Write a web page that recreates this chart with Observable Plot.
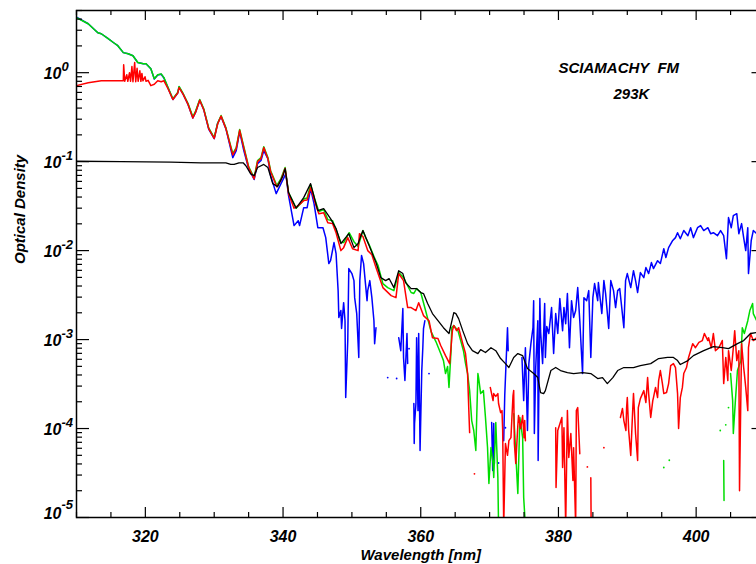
<!DOCTYPE html>
<html>
<head>
<meta charset="utf-8">
<script src="https://cdn.jsdelivr.net/npm/d3@7"></script>
<script src="https://cdn.jsdelivr.net/npm/@observablehq/plot@0.6"></script>
<style>
  html, body { margin: 0; padding: 0; background: #fff; overflow: hidden; }
</style>
</head>
<body>
<div id="chart"></div>
<script>
// SCIAMACHY FM optical density spectra at 293K: [wavelength nm, optical density]; null breaks a line.
const greenSeries = [
  [310.0,4.15],[311.7,3.55],[313.1,2.81],[313.6,2.74],[314.6,2.41],[315.4,2.17],[316.0,2.01],[316.8,1.68],
  [317.5,1.63],[318.2,1.55],[318.9,1.30],[319.7,1.26],[320.1,1.26],[320.8,1.11],[321.3,0.857],[321.8,0.95],
  [322.3,0.97],[322.7,0.88],[323.3,0.68],[324.0,0.51],[324.7,0.60],[324.9,0.70],[325.5,0.58],[326.2,0.45],
  [326.9,0.32],[327.3,0.37],[327.9,0.50],[328.5,0.39],[329.2,0.24],[330.0,0.186],[330.5,0.27],[331.0,0.33],
  [331.7,0.24],[332.7,0.123],[333.2,0.144],[333.7,0.23],[334.3,0.147],[335.0,0.088],[335.8,0.066],[336.3,0.103],
  [336.8,0.111],[337.2,0.147],[337.8,0.111],[338.2,0.079],[339.1,0.054],[339.7,0.0645],[340.3,0.086],[340.8,0.045],
  [341.9,0.030],[342.6,0.034],[343.0,0.038],[343.5,0.039],[344.0,0.055],[344.6,0.038],[345.2,0.0275],[345.9,0.029],
  [346.5,0.0223],[347.2,0.0217],[347.7,0.0172],[348.4,0.0123],[348.8,0.0123],[349.6,0.0159],[350.3,0.0126],[350.9,0.0111],
  [351.6,0.0168],[352.0,0.0140],[352.5,0.0117],[353.2,8.6e-3],[353.8,6.8e-3],[354.5,4.26e-3],[355.2,3.84e-3],[356.1,3.55e-3],
  [356.8,5.66e-3],[357.5,4.97e-3],[358.6,3.38e-3],[359.0,3.3e-3],[359.4,3.74e-3],[360.0,3.38e-3],[360.7,2.12e-3],[361.5,1.23e-3],
  [362.2,9.5e-4],[362.9,6.96e-4],[363.3,5.8e-4],[363.6,4.15e-4],[363.9,4.97e-4],[364.1,2.9e-4],[364.4,7.5e-4],[364.5,1.36e-3],
  [364.8,1.44e-3],[365.4,1.26e-3],[365.8,9.75e-4],[366.2,7.5e-4],[366.5,5.4e-4],[366.8,4.15e-4],[367.1,2.67e-4],[367.4,1.23e-4],
  [367.7,9.5e-5],[368.0,5.66e-5],[368.3,4.15e-4],[368.4,3.74e-4],[368.7,2.47e-4],[369.1,2.67e-4],[369.4,1.33e-4],[369.7,6.12e-5],
  [369.9,2.41e-5],[370.2,6.12e-5],[370.5,4.05e-5],[370.6,2.81e-5],[370.9,1.17e-4],[371.2,2.81e-5],[371.3,8e-6],[372.0,null],
  [373.5,1.47e-4],[374.1,1.86e-5],[374.4,1.33e-4],[374.8,7.9e-5],[374.95,1.68e-5],[375.2,8e-6],[376.0,null],
  [404.0,4.37e-5],[404.05,1.55e-5],[404.5,null],
  [405.0,4.15e-4],[405.3,2.06e-4],[405.4,8.8e-5],[405.7,2.06e-4],[406.0,4.49e-4],[406.5,5.8e-4],[406.7,1.36e-3],[407.0,1.17e-3],
  [407.5,1.63e-3],[407.8,2.12e-3],[408.2,2.54e-3],[408.3,1.96e-3],[408.8,1.63e-3],[410.0,1.26e-3]
];

const redSeries = [
  [310.0,0.715],[311.7,0.77],[313.6,0.81],[315.4,0.81],[316.5,0.81],[316.8,0.81],[316.85,1.23],[317.0,0.80],
  [317.3,0.95],[317.45,0.80],[317.7,1.0],[317.85,0.80],[318.05,1.17],[318.2,0.79],[318.45,1.30],[318.6,0.79],
  [318.8,1.12],[318.95,0.80],[319.2,1.05],[319.35,0.80],[319.5,0.98],[319.65,0.81],[319.95,0.90],[320.1,0.80],
  [320.4,0.82],[320.8,0.715],[321.3,0.74],[321.8,0.81],[322.3,0.79],[322.7,0.81],[323.3,0.66],
  [324.0,0.50],[324.7,0.59],[324.9,0.68],[325.5,0.57],[326.2,0.44],[326.9,0.31],[327.3,0.36],[327.9,0.49],
  [328.5,0.38],[329.2,0.235],[330.0,0.182],[330.5,0.265],[331.0,0.325],[331.7,0.235],[332.7,0.119],[333.2,0.14],
  [333.7,0.225],[334.3,0.143],[335.0,0.086],[335.8,0.064],[336.3,0.10],[336.8,0.108],[337.2,0.144],[337.8,0.108],
  [338.2,0.077],[339.1,0.052],[339.7,0.062],[340.3,0.084],[340.8,0.0437],[341.6,0.030],[342.2,0.032],[343.0,0.0365],
  [343.5,0.037],[344.0,0.051],[344.8,0.032],[345.2,0.026],[345.9,0.0267],[346.5,0.0206],[347.2,0.0201],[347.7,0.0159],
  [348.4,0.0100],[348.8,0.0108],[349.4,0.014],[350.1,0.0105],[350.9,0.0100],[351.1,0.0155],[351.6,0.0144],[352.3,0.0100],
  [352.9,9.0e-3],[353.5,6.45e-3],[354.5,3.84e-3],[355.7,3.12e-3],[356.4,2.96e-3],[356.8,5.52e-3],[357.5,4.6e-3],[358.1,2.29e-3],
  [358.6,2.29e-3],[359.3,2.12e-3],[359.7,2.6e-3],[360.4,1.86e-3],[361.2,1.63e-3],[361.7,1.05e-3],[362.5,1.03e-3],[362.9,8.57e-4],
  [363.6,6.6e-4],[364.2,5.37e-4],[364.6,1.26e-3],[364.8,1.44e-3],[365.2,1.26e-3],[365.5,1.36e-3],[366.1,9.0e-4],[366.5,6.96e-4],
  [366.8,4.15e-4],[367.0,1.47e-4],[367.1,9.0e-5],[367.5,null],
  [370.1,2.9e-4],[370.5,2.06e-4],[370.6,2.47e-4],[370.9,2.3e-4],[371.2,2.47e-4],[371.3,1.91e-4],[371.6,1.51e-4],[371.8,1.59e-4],
  [371.9,9.5e-5],[372.05,8e-6],[372.3,6.8e-5],[372.6,5e-5],[372.8,7.3e-5],[373.1,7.9e-5],[373.4,2.35e-4],[373.5,2.67e-4],
  [373.6,6.8e-5],[373.8,4.05e-5],[374.1,1.08e-4],[374.2,1.4e-4],[374.5,1.0e-4],[374.8,1.4e-4],[375.0,7.9e-5],[375.1,1.23e-4],
  [375.2,7.3e-5],[375.5,null],
  [379.6,1.02e-4],[379.65,2.17e-5],[379.9,9.5e-5],[380.5,1.33e-4],[380.6,3.65e-5],[380.8,1.02e-4],[381.05,8e-6],[381.3,1.59e-4],
  [381.5,4.72e-5],[381.8,8.8e-5],[382.1,2.6e-5],[382.2,6.1e-5],[382.5,8e-6],[382.6,1.59e-4],[382.8,1.72e-4],[383.1,5.2e-5],
  [383.3,null],[384.7,2.8e-5],[384.75,8e-6],[385.0,null],
  [389.0,1.33e-4],[389.3,1.68e-4],[389.5,1.23e-4],[389.8,9.5e-5],[389.9,1.72e-4],[390.0,2.23e-4],[390.2,9.5e-5],[390.5,4.97e-5],
  [390.8,1.72e-4],[390.9,2.47e-4],[391.2,8.8e-5],[391.5,4.37e-5],[391.6,1.72e-4],[391.9,2.17e-4],[392.4,2.67e-4],[392.7,1.96e-4],
  [392.95,3.74e-4],[393.1,2.47e-4],[393.4,1.33e-4],[393.7,2.06e-4],[393.8,2.23e-4],[394.1,2.9e-4],[394.4,2.23e-4],[394.55,3.46e-4],
  [394.8,4.49e-4],[395.1,3.2e-4],[395.3,2.47e-4],[395.7,2.54e-4],[396.0,3.2e-4],[396.3,5.1e-4],[396.7,5.37e-4],[397.0,4.85e-4],
  [397.3,2.47e-4],[397.45,1.0e-4],[397.7,2.23e-4],[398.0,2.9e-4],[398.2,4.15e-4],[398.6,4.85e-4],[398.9,6.3e-4],[399.5,9.0e-4],
  [399.9,8.1e-4],[400.4,9.3e-4],[400.9,9.75e-4],[401.2,1.17e-3],[401.7,9.75e-4],[401.8,1.05e-3],[402.2,8.1e-4],[402.5,1.17e-3],
  [402.8,7.5e-4],[403.3,8.1e-4],[403.8,9.75e-4],[404.0,3.2e-4],[404.3,6.3e-4],[404.6,3.46e-4],[404.7,7.5e-4],[405.1,4.49e-4],
  [405.4,8.1e-4],[405.6,1.26e-3],[405.9,5.8e-4],[406.2,7.5e-4],[406.3,2.0e-5],[406.6,9.0e-4],[406.9,4.85e-4],[407.0,4.15e-4],
  [407.2,2.9e-4],[407.5,1.59e-4],[407.6,8.1e-4],[407.9,1.17e-3],[408.3,9.75e-4],[408.8,1.05e-3],[410.0,1.1e-3]
];

const blueSeries = [
  [310.0,4.2],[311.7,3.55],[313.1,2.81],[313.6,2.74],[314.6,2.41],[315.4,2.17],[316.0,2.01],[316.8,1.68],
  [317.5,1.63],[318.2,1.55],[318.9,1.30],[319.7,1.26],[320.1,1.26],[320.8,1.11],[321.3,0.85],[321.8,0.94],
  [322.3,0.96],[322.7,0.87],[323.3,0.67],[324.0,0.50],[324.7,0.59],[324.9,0.69],[325.5,0.57],[326.2,0.44],
  [326.9,0.31],[327.3,0.36],[327.9,0.49],[328.5,0.38],[329.2,0.232],[330.0,0.181],[330.5,0.27],[331.0,0.32],
  [331.7,0.235],[332.7,0.111],[333.2,0.133],[333.7,0.217],[334.3,0.133],[335.0,0.0835],[335.8,0.063],[336.3,0.095],
  [336.8,0.103],[337.2,0.133],[337.8,0.108],[338.2,0.0696],[339.0,0.0437],[339.7,0.0566],[340.4,0.073],[340.8,0.0415],
  [341.6,0.0191],[342.2,0.0217],[342.4,0.0191],[343.0,0.0304],[343.5,0.0304],[344.0,0.0497],[344.5,0.0338],[345.05,0.0181],
  [345.8,0.0181],[346.2,0.014],[346.65,7.15e-3],[346.9,7.7e-3],[347.4,0.0123],[347.7,9.26e-3],[348.0,3.55e-3],[348.1,1.77e-3],
  [348.4,2.12e-3],[348.5,1.33e-3],[348.8,2.6e-3],[349.0,1.63e-3],[349.1,2.23e-4],[349.4,9.75e-4],[349.55,6.28e-3],[350.0,5.52e-3],
  [350.3,4.6e-3],[350.4,2.96e-3],[350.7,1.96e-3],[351.0,6.3e-4],[351.15,4.6e-3],[351.4,8.8e-3],[351.7,7.15e-3],[352.2,2.74e-3],
  [352.3,3.55e-3],[352.6,4.6e-3],[352.9,2.96e-3],[353.2,1.63e-3],[353.3,9.0e-4],[353.5,1.36e-3],[353.7,null],
  [356.8,1.05e-3],[357.1,7.5e-4],[357.4,2.23e-3],[357.5,6.3e-4],[357.7,3.46e-4],[358.0,1.17e-3],[358.1,5.37e-4],[358.3,null],
  [359.0,1.91e-4],[359.05,6.8e-5],[359.1,1.14e-4],[359.3,1.91e-4],[359.4,1.05e-3],[359.6,1.59e-4],[359.7,1.17e-3],[359.9,5.66e-5],
  [360.15,4.49e-4],[360.3,8.1e-4],[360.4,1.33e-3],[360.6,1.63e-3],[360.8,null],
  [370.3,1.17e-4],[370.45,3.38e-5],[370.6,1.14e-4],[370.7,4.05e-5],[370.9,null],
  [372.05,7.3e-5],[372.2,2.35e-4],[372.6,1.36e-3],[372.7,7.5e-4],[372.9,null],
  [374.7,6.3e-4],[374.95,2.06e-4],[375.2,8.1e-4],[375.5,9.5e-5],[375.7,5.37e-4],[376.0,9.0e-4],[376.3,1.36e-3],[376.4,2.74e-3],
  [376.5,8.8e-5],[376.7,4.85e-4],[377.0,1.63e-3],[377.05,4.37e-5],[377.3,2.89e-3],[377.4,1.26e-3],[377.7,5.37e-4],[378.0,2.54e-3],
  [378.1,6.3e-4],[378.3,1.4e-3],[378.6,1.17e-3],[379.0,2.29e-3],[379.3,6.96e-4],[379.6,1.96e-3],[379.9,1.17e-3],[380.2,2.89e-3],
  [380.6,1.26e-3],[380.8,2.29e-3],[381.05,1.51e-3],[381.3,3.29e-3],[381.6,8.1e-4],[381.9,2.74e-3],[382.2,1.77e-3],[382.5,2.12e-3],
  [382.8,3.84e-3],[383.1,1.63e-3],[383.5,4.15e-4],[383.7,2.96e-3],[384.1,2.74e-3],[384.4,3.55e-3],[384.7,6.3e-4],[385.0,2.96e-3],
  [385.25,4.26e-3],[385.7,2.74e-3],[385.8,4.37e-3],[386.3,1.96e-3],[386.6,4.6e-3],[386.85,3.29e-3],[387.3,1.33e-3],[387.6,4.6e-3],
  [388.0,3.55e-3],[388.3,2.29e-3],[388.6,3.55e-3],[388.9,3.74e-3],[389.5,1.36e-3],[389.75,4.6e-3],[390.0,5.52e-3],[390.5,3.84e-3],
  [390.9,5.95e-3],[391.2,4.6e-3],[391.5,3.38e-3],[391.9,5.66e-3],[392.4,4.97e-3],[392.7,6.45e-3],[393.1,5.52e-3],[393.5,7.34e-3],
  [393.8,6.28e-3],[394.4,7.7e-3],[394.8,7.15e-3],[395.3,0.0105],[395.6,8.35e-3],[396.0,0.0108],[396.6,0.013],[397.0,0.014],
  [397.3,0.0159],[397.7,0.0136],[398.2,0.0168],[398.8,0.0147],[399.2,0.0181],[399.6,0.014],[400.2,0.0181],[400.65,0.0191],
  [401.1,0.0168],[401.7,0.0181],[402.1,0.0155],[402.5,0.0159],[403.1,0.0147],[403.55,0.0168],[404.0,0.0147],[404.4,8.1e-3],
  [404.7,0.0235],[405.1,0.0181],[405.4,0.0247],[405.9,0.026],[406.2,0.0155],[406.6,0.0201],[406.9,0.014],[407.2,0.01],
  [407.5,0.0181],[407.6,5.52e-3],[408.0,0.013],[408.3,0.0168],[408.8,0.0155],[410.0,0.0177]
];

const blackSeries = [
  [310.0,0.101],[316.5,0.100],[323.7,0.099],[328.1,0.097],[331.7,0.097],[332.4,0.093],[332.9,0.093],[333.6,0.097],
  [334.2,0.097],[334.6,0.090],[335.3,0.073],[335.8,0.0696],[336.3,0.086],[337.2,0.093],[337.8,0.086],[338.5,0.0566],
  [339.2,0.0524],[340.0,0.0696],[340.3,0.0835],[340.8,0.045],[341.9,0.030],[343.0,0.0394],[344.0,0.0566],[345.05,0.0281],
  [345.9,0.0296],[346.9,0.0229],[347.7,0.0177],[348.4,0.012],[349.55,0.0155],[350.3,0.0108],[350.9,0.012],[351.6,0.0168],
  [352.5,0.0114],[353.5,7.34e-3],[354.2,4.97e-3],[354.9,4.6e-3],[355.4,4.85e-3],[356.1,3.84e-3],[356.8,5.95e-3],[357.4,5.52e-3],
  [357.8,4.37e-3],[358.6,3.74e-3],[359.4,3.74e-3],[360.0,3.38e-3],[360.4,3.29e-3],[361.0,2.54e-3],[361.7,1.96e-3],[362.5,1.63e-3],
  [363.3,1.36e-3],[364.1,1.17e-3],[364.8,2.01e-3],[365.1,1.96e-3],[365.5,1.72e-3],[366.1,1.26e-3],[366.8,9.0e-4],[367.5,7.5e-4],
  [368.3,6.96e-4],[368.7,7.7e-4],[369.4,7.15e-4],[370.2,8.1e-4],[370.9,7.5e-4],[371.6,6.12e-4],[372.3,5.37e-4],[372.8,4.85e-4],
  [373.5,6.3e-4],[374.1,6.96e-4],[374.8,6.6e-4],[375.5,4.72e-4],[376.4,4.15e-4],[377.0,3.74e-4],[377.4,2.54e-4],[377.85,2.47e-4],
  [378.1,2.67e-4],[378.9,4.49e-4],[379.6,4.85e-4],[380.3,4.49e-4],[381.3,4.26e-4],[382.2,4.15e-4],[383.5,4.26e-4],[384.7,4.15e-4],
  [385.7,3.65e-4],[386.4,3.74e-4],[387.1,3.2e-4],[387.9,3.74e-4],[388.6,4.49e-4],[389.5,4.85e-4],[390.9,4.85e-4],[391.9,5.1e-4],
  [393.4,5.37e-4],[394.55,6.12e-4],[395.85,6.3e-4],[396.7,6.3e-4],[397.3,5.81e-4],[397.7,5.24e-4],[398.8,5.81e-4],[399.6,6.6e-4],
  [401.1,7.5e-4],[402.5,8.35e-4],[403.8,8.1e-4],[404.7,7.9e-4],[406.0,9.0e-4],[406.9,9.75e-4],[407.9,1.17e-3],[408.8,1.2e-3],
  [410.0,1.26e-3]
];

// isolated single samples
const blueDots = [[355.2,3.74e-4],[356.5,3.65e-4],[358.3,7.9e-4],[361.2,4.15e-4],[371.3,4.1e-5],[372.3,1.02e-4]];
const redDots = [[367.8,3.1e-5],[384.2,3.7e-5],[386.6,6.1e-5]];
const greenDots = [[395.3,3.65e-5],[396.1,4.4e-5],[403.5,9.5e-5],[404.3,1.1e-4],[404.7,1.72e-4]];

// axis ticks
const xMajor = [320, 340, 360, 380, 400];
const xMinor = d3.range(310, 411, 5).filter(v => v % 20 !== 0);
const yMajor = [1e-5, 1e-4, 1e-3, 1e-2, 1e-1, 1];
const yMinor = [];
for (let e = -5; e <= 0; e++) for (let k = 2; k <= 9; k++) if (k * 10 ** e <= 5) yMinor.push(k * 10 ** e);

const W = 756, H = 564;
const mL = 76, mR = -8.5, mT = 10, mB = 47;
const fw = W - mL - mR, fh = H - mT - mB;

const font = {fontWeight: "bold", fontStyle: "italic", fill: "black"};
const lineOpts = (stroke, w = 1.5) => ({x: d => d[0], y: d => d[1], stroke, strokeWidth: w, clip: true});
const dotOpts = (fill) => ({x: d => d[0], y: d => d[1], fill, r: 0.9, clip: true});

const chart = Plot.plot({
  width: W, height: H,
  marginLeft: mL, marginRight: mR, marginTop: mT, marginBottom: mB,
  x: {domain: [310, 410], axis: null},
  y: {type: "log", domain: [1e-5, 5], axis: null},
  style: {fontFamily: "'Liberation Sans', Arial, sans-serif", background: "#fff", maxWidth: "none"},
  marks: [
    Plot.line(blueSeries, lineOpts("#0000ff")),
    Plot.dot(blueDots, dotOpts("#0000ff")),
    Plot.line(greenSeries, lineOpts("#00dd00")),
    Plot.dot(greenDots, dotOpts("#00dd00")),
    Plot.line(redSeries, lineOpts("#ff0000")),
    Plot.dot(redDots, dotOpts("#ff0000")),
    Plot.line(blackSeries, lineOpts("#000000", 1.3)),

    // ticks on all four sides, pointing inward
    Plot.tickY(yMajor, {y: d => d, insetRight: fw - 13, stroke: "black", strokeWidth: 1.2}),
    Plot.tickY(yMinor, {y: d => d, insetRight: fw - 6, stroke: "black", strokeWidth: 1.2}),
    Plot.tickY(yMajor, {y: d => d, insetLeft: fw - 13, stroke: "black", strokeWidth: 1.2}),
    Plot.tickY(yMinor, {y: d => d, insetLeft: fw - 6, stroke: "black", strokeWidth: 1.2}),
    Plot.tickX(xMajor, {x: d => d, insetTop: fh - 10, stroke: "black", strokeWidth: 1.2}),
    Plot.tickX(xMinor, {x: d => d, insetTop: fh - 5, stroke: "black", strokeWidth: 1.2}),
    Plot.tickX(xMajor, {x: d => d, insetBottom: fh - 10, stroke: "black", strokeWidth: 1.2}),
    Plot.tickX(xMinor, {x: d => d, insetBottom: fh - 5, stroke: "black", strokeWidth: 1.2}),
    Plot.frame({stroke: "black", strokeWidth: 1.5}),

    // tick labels
    Plot.text(xMajor, {x: d => d, frameAnchor: "bottom", dy: 24, lineAnchor: "bottom", text: d => String(d), fontSize: 16, ...font}),
    Plot.text(yMajor.slice(1), {y: d => d, frameAnchor: "left", dx: -15, dy: 6.5, textAnchor: "end", lineAnchor: "bottom", text: () => "10", fontSize: 16, ...font}),
    Plot.text(yMajor.slice(1), {y: d => d, frameAnchor: "left", dx: -15, dy: -1.5, textAnchor: "start", lineAnchor: "bottom", text: d => String(Math.round(Math.log10(d))), fontSize: 13, ...font}),
    Plot.text(yMajor.slice(0, 1), {y: d => d, frameAnchor: "left", dx: -15, dy: 1, textAnchor: "end", lineAnchor: "bottom", text: () => "10", fontSize: 16, ...font}),
    Plot.text(yMajor.slice(0, 1), {y: d => d, frameAnchor: "left", dx: -15, dy: -9, textAnchor: "start", lineAnchor: "bottom", text: d => String(Math.round(Math.log10(d))), fontSize: 13, ...font}),

    // axis titles and annotation
    Plot.text(["Wavelength [nm]"], {frameAnchor: "bottom", dy: 42, lineAnchor: "bottom", text: d => d, fontSize: 15, ...font}),
    Plot.text(["Optical Density"], {frameAnchor: "left", dx: -56, rotate: -90, text: d => d, fontSize: 15, ...font}),
    Plot.text(["SCIAMACHY  FM"], {frameAnchor: "top-left", dx: 482, dy: 62, textAnchor: "start", lineAnchor: "bottom", text: d => d, fontSize: 15, ...font}),
    Plot.text(["293K"], {frameAnchor: "top-left", dx: 537, dy: 88, textAnchor: "start", lineAnchor: "bottom", text: d => d, fontSize: 15, ...font})
  ]
});

document.getElementById("chart").append(chart);
</script>
</body>
</html>
